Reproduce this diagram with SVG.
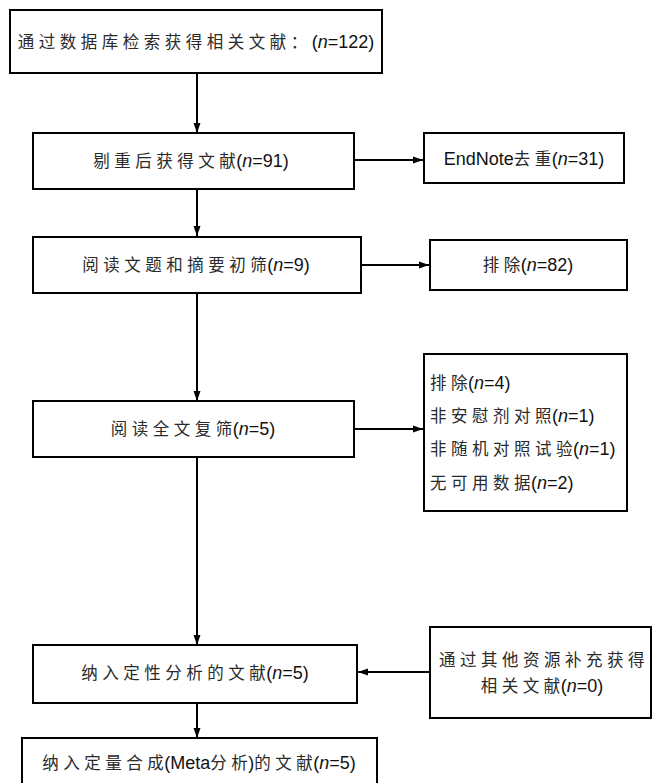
<svg xmlns="http://www.w3.org/2000/svg" width="655" height="783" viewBox="0 0 655 783">
<style>
  .box{fill:#fff;stroke:#000;stroke-width:2}
  .t{font-family:"Liberation Sans","Noto Sans CJK SC",sans-serif;font-size:18px;fill:#111}
  .c{font-family:"Noto Sans CJK SC",sans-serif;font-size:16.5px;letter-spacing:4.5px;fill:#2a2a2a}
  .c.e{letter-spacing:0.5px}
  .i{font-style:italic}
  .mid{text-anchor:middle}
  .ln{stroke:#000;stroke-width:2;fill:none}
</style>
<defs>
  <marker id="ah" viewBox="0 0 10 10" refX="10" refY="5" markerWidth="10" markerHeight="10" markerUnits="userSpaceOnUse" orient="auto">
    <path d="M0,1.5 L10,5 L0,8.5 z" fill="#000"/>
  </marker>
</defs>
<rect width="655" height="783" fill="#fff"/>
<g id="connectors">
  <line class="ln" x1="197" y1="73" x2="197" y2="133" marker-end="url(#ah)"/>
  <line class="ln" x1="354" y1="160" x2="423" y2="160" marker-end="url(#ah)"/>
  <line class="ln" x1="197" y1="189" x2="197" y2="236" marker-end="url(#ah)"/>
  <line class="ln" x1="361" y1="265" x2="429" y2="265" marker-end="url(#ah)"/>
  <line class="ln" x1="197" y1="293" x2="197" y2="401" marker-end="url(#ah)"/>
  <line class="ln" x1="354" y1="429" x2="423" y2="429" marker-end="url(#ah)"/>
  <line class="ln" x1="197" y1="457" x2="197" y2="645" marker-end="url(#ah)"/>
  <line class="ln" x1="430" y1="672" x2="358" y2="672" marker-end="url(#ah)"/>
  <line class="ln" x1="197" y1="703" x2="197" y2="738" marker-end="url(#ah)"/>
</g>
<g id="n1">
  <rect class="box" x="10" y="10" width="372" height="63"/>
  <text class="t mid" x="196" y="48"><tspan class="c">通过数据库检索获得相关文献：</tspan>(<tspan class="i">n</tspan>=122)</text>
</g>
<g id="n2">
  <rect class="box" x="33" y="133" width="321" height="56"/>
  <text class="t mid" x="191" y="167"><tspan class="c">剔重后获得文</tspan><tspan class="c e">献</tspan>(<tspan class="i">n</tspan>=91)</text>
</g>
<g id="n2r">
  <rect class="box" x="424" y="133" width="200" height="50"/>
  <text class="t mid" x="524" y="165">EndNote<tspan class="c">去</tspan><tspan class="c e">重</tspan>(<tspan class="i">n</tspan>=31)</text>
</g>
<g id="n3">
  <rect class="box" x="33" y="237" width="328" height="56"/>
  <text class="t mid" x="196" y="271"><tspan class="c">阅读文题和摘要初</tspan><tspan class="c e">筛</tspan>(<tspan class="i">n</tspan>=9)</text>
</g>
<g id="n3r">
  <rect class="box" x="430" y="240" width="197" height="50"/>
  <text class="t mid" x="528" y="271"><tspan class="c">排</tspan><tspan class="c e">除</tspan>(<tspan class="i">n</tspan>=82)</text>
</g>
<g id="n4">
  <rect class="box" x="33" y="401" width="321" height="56"/>
  <text class="t mid" x="193" y="435"><tspan class="c">阅读全文复</tspan><tspan class="c e">筛</tspan>(<tspan class="i">n</tspan>=5)</text>
</g>
<g id="n4r">
  <rect class="box" x="424" y="354" width="203" height="157"/>
  <text class="t" x="430" y="389"><tspan class="c">排</tspan><tspan class="c e">除</tspan>(<tspan class="i">n</tspan>=4)</text>
  <text class="t" x="430" y="422"><tspan class="c">非安慰剂对</tspan><tspan class="c e">照</tspan>(<tspan class="i">n</tspan>=1)</text>
  <text class="t" x="430" y="455"><tspan class="c">非随机对照试</tspan><tspan class="c e">验</tspan>(<tspan class="i">n</tspan>=1)</text>
  <text class="t" x="430" y="489"><tspan class="c">无可用数</tspan><tspan class="c e">据</tspan>(<tspan class="i">n</tspan>=2)</text>
</g>
<g id="n5">
  <rect class="box" x="33" y="645" width="324" height="58"/>
  <text class="t mid" x="195" y="679"><tspan class="c">纳入定性分析的文</tspan><tspan class="c e">献</tspan>(<tspan class="i">n</tspan>=5)</text>
</g>
<g id="n5r">
  <rect class="box" x="430" y="627" width="221" height="91"/>
  <text class="t mid" x="542" y="666"><tspan class="c">通过其他资源补充获</tspan><tspan class="c e">得</tspan></text>
  <text class="t mid" x="542" y="692"><tspan class="c">相关文</tspan><tspan class="c e">献</tspan>(<tspan class="i">n</tspan>=0)</text>
</g>
<g id="n6">
  <rect class="box" x="22" y="738" width="355" height="60"/>
  <text class="t mid" x="199" y="769"><tspan class="c">纳入定量合</tspan><tspan class="c e">成</tspan>(Meta<tspan class="c">分</tspan><tspan class="c e">析</tspan>)<tspan class="c">的文</tspan><tspan class="c e">献</tspan>(<tspan class="i">n</tspan>=5)</text>
</g>
</svg>
